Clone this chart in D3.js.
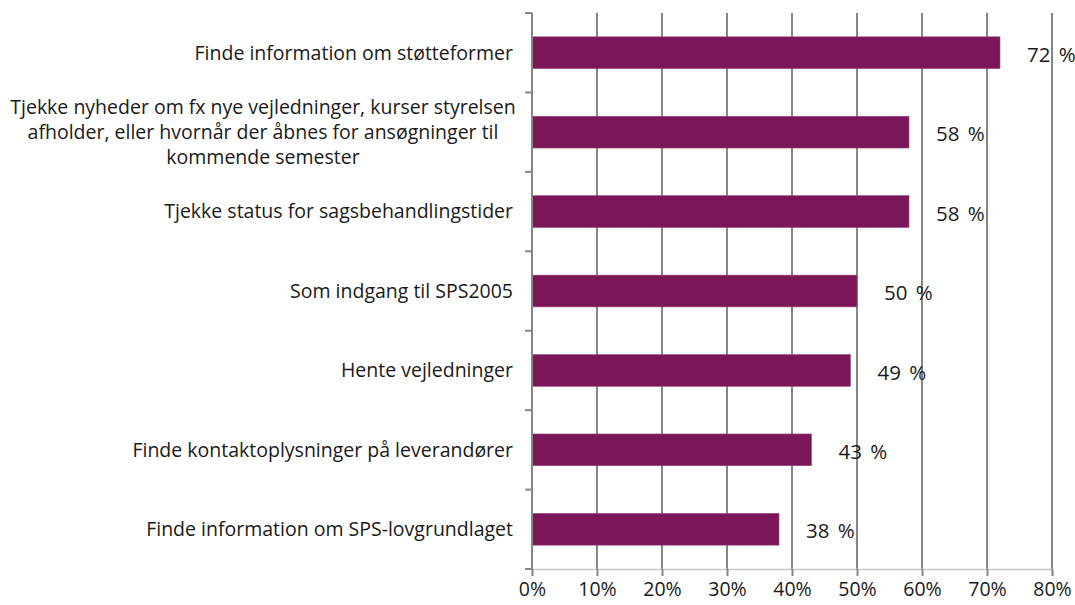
<!DOCTYPE html>
<html>
<head>
<meta charset="utf-8">
<script src="https://cdn.jsdelivr.net/npm/d3@7"></script>
<style>
  body { margin: 0; background: #fff; }
  text { font-family: "Open Sans", sans-serif; fill: #1a1a1a; }
</style>
</head>
<body>
<div id="chart"></div>
<script>
// categories, top to bottom (lines split as in the chart)
var categories = [
  ["Finde information om støtteformer"],
  ["Tjekke nyheder om fx nye vejledninger, kurser styrelsen", "afholder, eller hvornår der åbnes for ansøgninger til", "kommende semester"],
  ["Tjekke status for sagsbehandlingstider"],
  ["Som indgang til SPS2005"],
  ["Hente vejledninger"],
  ["Finde kontaktoplysninger på leverandører"],
  ["Finde information om SPS-lovgrundlaget"]
];
var values = [72, 58, 58, 50, 49, 43, 38];
var valueLabels = ["72 %", "58 %", "58 %", "50 %", "49 %", "43 %", "38 %"];
var xTicks = [0, 10, 20, 30, 40, 50, 60, 70, 80];

var width = 1075, height = 605;
var margin = {top: 13, right: 23, bottom: 36, left: 532};
var w = width - margin.left - margin.right,
    h = height - margin.top - margin.bottom;

var svg = d3.select("#chart").append("svg")
    .attr("width", width)
    .attr("height", height);

var g = svg.append("g")
    .attr("transform", "translate(" + margin.left + "," + margin.top + ")");

var x = d3.scaleLinear().domain([0, 80]).range([0, w]);
var y = d3.scaleBand()
    .domain(d3.range(categories.length))
    .range([0, h])
    .paddingInner(0.6)
    .paddingOuter(0.3);

// gridlines
g.selectAll(".grid")
    .data(xTicks.slice(1))
  .enter().append("line")
    .attr("x1", function(d) { return x(d); })
    .attr("x2", function(d) { return x(d); })
    .attr("y1", 0)
    .attr("y2", h)
    .attr("stroke", "#868686")
    .attr("stroke-width", 2);

// bars
g.selectAll(".bar")
    .data(values)
  .enter().append("rect")
    .attr("class", "bar")
    .attr("x", 0)
    .attr("y", function(d, i) { return y(i); })
    .attr("width", function(d) { return x(d); })
    .attr("height", y.bandwidth())
    .attr("fill", "#7b1658")
    .attr("stroke", "#9a4a7e")
    .attr("stroke-width", 0.6);

// x axis
var xAxis = d3.axisBottom(x)
    .tickValues(xTicks)
    .tickFormat(function(d) { return d + "%"; })
    .tickSize(7)
    .tickPadding(6);

var xg = g.append("g")
    .attr("transform", "translate(0," + h + ")")
    .call(xAxis);
xg.select(".domain").attr("stroke", "#c8c8c8").attr("stroke-width", 1.5);
xg.selectAll(".tick line").attr("stroke", "#868686").attr("stroke-width", 2);
xg.selectAll(".tick text")
    .style("font-size", "19.5px")
    .attr("fill", "#1a1a1a");

// y axis line with ticks between categories
var step = h / categories.length;
g.append("line")
    .attr("x1", 0).attr("x2", 0)
    .attr("y1", 0).attr("y2", h)
    .attr("stroke", "#868686")
    .attr("stroke-width", 2);
g.selectAll(".ytick")
    .data(d3.range(categories.length + 1))
  .enter().append("line")
    .attr("x1", -7).attr("x2", 0)
    .attr("y1", function(d) { return d * step; })
    .attr("y2", function(d) { return d * step; })
    .attr("stroke", "#868686")
    .attr("stroke-width", 2);

// category labels
var lineH = 25;
var labels = g.selectAll(".cat")
    .data(categories)
  .enter().append("text")
    .attr("class", "cat")
    .style("font-size", "19.5px")
    .attr("y", function(d, i) { return y(i) + y.bandwidth() / 2; });

labels.each(function(lines, i) {
  var t = d3.select(this);
  if (lines.length === 1) {
    t.attr("text-anchor", "end")
     .append("tspan")
      .attr("x", -19)
      .attr("dy", "0.35em")
      .text(lines[0]);
  } else {
    t.attr("text-anchor", "middle");
    lines.forEach(function(l, j) {
      t.append("tspan")
        .attr("x", -269)
        .attr("y", y(i) + y.bandwidth() / 2 + (j - (lines.length - 1) / 2) * lineH)
        .attr("dy", "0.35em")
        .text(l);
    });
  }
});

// value labels
g.selectAll(".val")
    .data(values)
  .enter().append("text")
    .attr("class", "val")
    .style("font-size", "20.5px")
    .style("word-spacing", "3px")
    .attr("x", function(d) { return x(d) + 27; })
    .attr("y", function(d, i) { return y(i) + y.bandwidth() / 2 + 2; })
    .attr("dy", "0.35em")
    .text(function(d, i) { return valueLabels[i]; });
</script>
</body>
</html>
